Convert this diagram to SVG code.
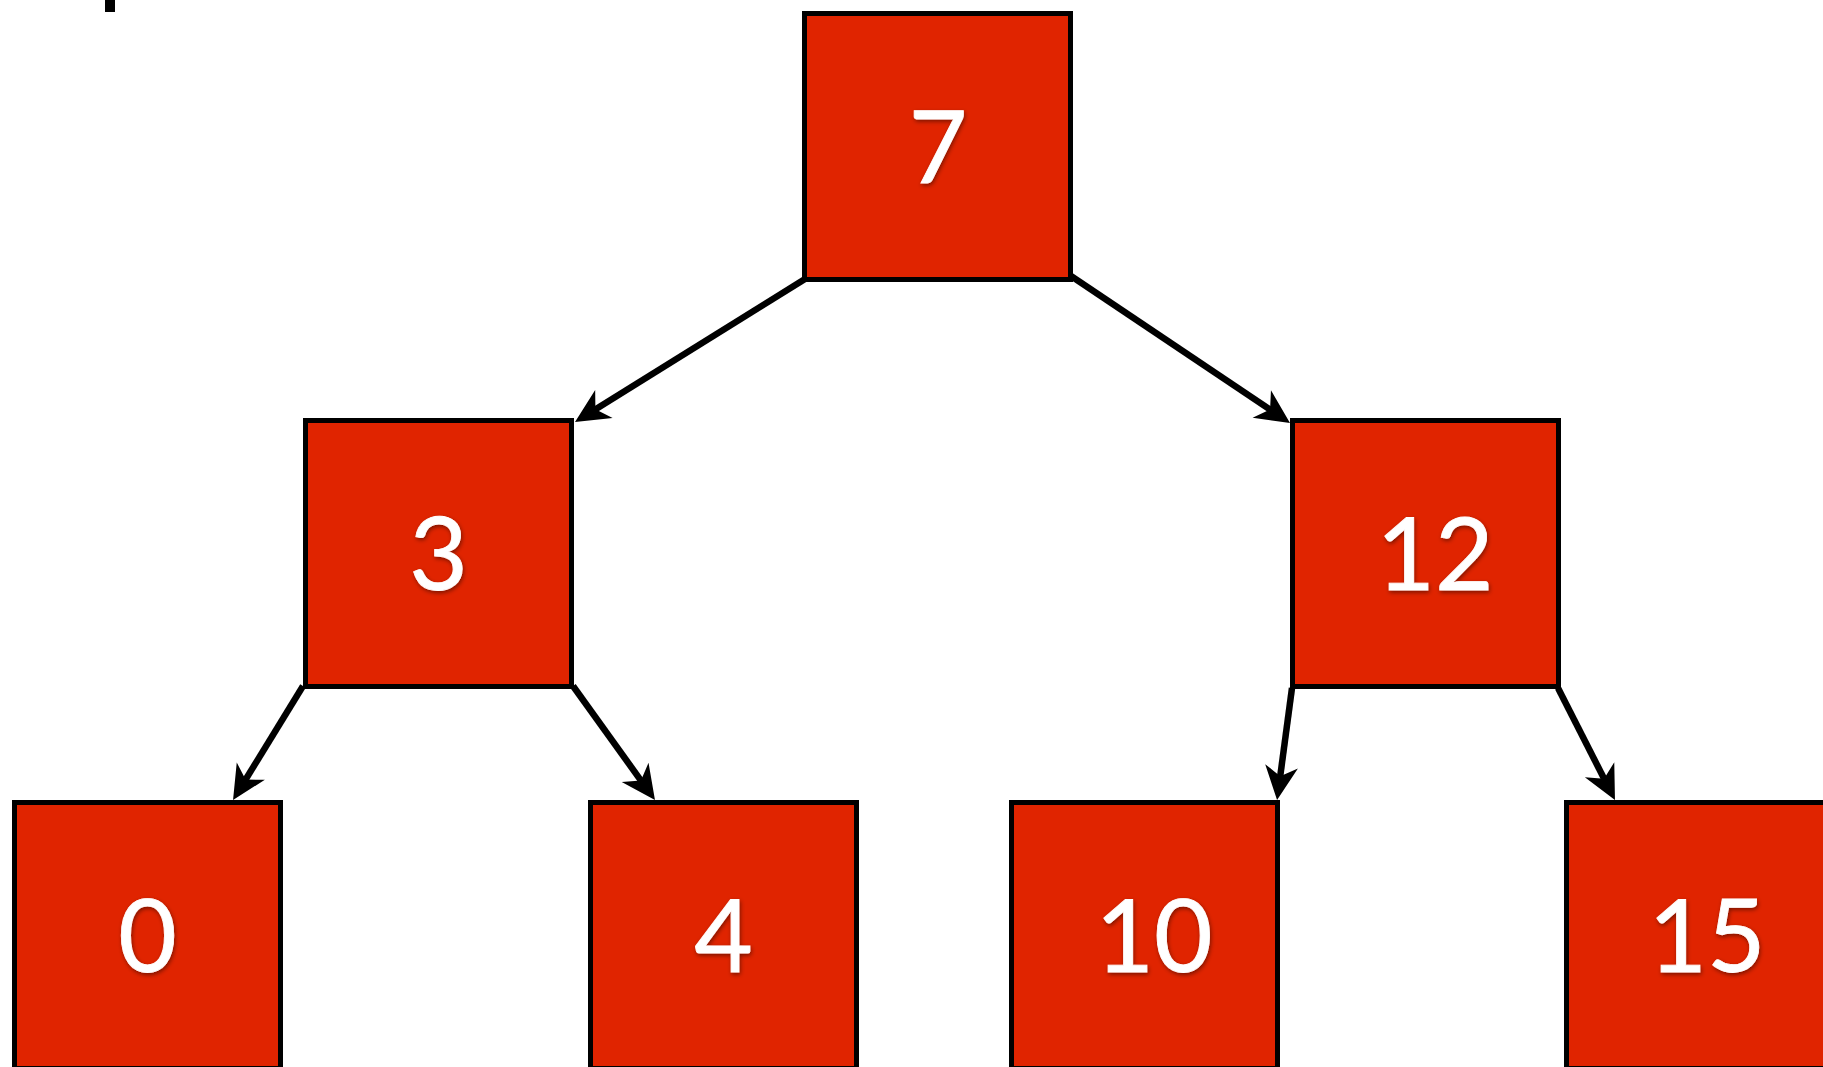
<svg xmlns="http://www.w3.org/2000/svg" width="1823" height="1067" viewBox="0 0 1823 1067">
<style>
.node rect{fill:#e02400;stroke:#000;stroke-width:5}
.node text{fill:#fff;stroke:#fff;stroke-width:0.8;font-family:Lato,"Open Sans",sans-serif;font-size:101px;text-anchor:middle;filter:url(#sh)}
.edge{stroke:#000;stroke-width:6.5;fill:none;marker-end:url(#ah)}
</style>
<defs>
<filter id="sh" x="-20%" y="-20%" width="140%" height="140%"><feDropShadow dx="1" dy="2" stdDeviation="2" flood-color="#000" flood-opacity="0.45"/></filter>
<marker id="ah" markerUnits="userSpaceOnUse" viewBox="-16 -18 38 36" markerWidth="38" markerHeight="36" refX="0" refY="0" orient="auto"><path d="M20,0 L-14,-16.5 L-4,0 L-14,16.5 Z" fill="#000"/></marker>
</defs>
<rect x="105" y="0" width="10" height="12" fill="#000"/>
<g id="connectors">
<line class="edge" x1="805" y1="279" x2="592" y2="411.4"/>
<line class="edge" x1="1071" y1="276" x2="1273.4" y2="411.8"/>
<line class="edge" x1="303" y1="686" x2="243.5" y2="783"/>
<line class="edge" x1="573" y1="686" x2="643.3" y2="783.8"/>
<line class="edge" x1="1292" y1="688" x2="1279.7" y2="780.2"/>
<line class="edge" x1="1558" y1="688" x2="1605.9" y2="782.2"/>
</g>
<g id="n7" class="node"><rect x="804.5" y="13.5" width="266" height="266"/><text x="938" y="183">7</text></g>
<g id="n3" class="node"><rect x="305.5" y="420.5" width="266" height="266"/><text x="438.5" y="590">3</text></g>
<g id="n12" class="node"><rect x="1292.5" y="420.5" width="266" height="266"/><text x="1435" y="590">12</text></g>
<g id="n0" class="node"><rect x="14.5" y="802.5" width="266" height="266"/><text x="147.5" y="972">0</text></g>
<g id="n4" class="node"><rect x="590.5" y="802.5" width="266" height="266"/><text x="723.5" y="972">4</text></g>
<g id="n10" class="node"><rect x="1011.5" y="802.5" width="266" height="266"/><text x="1154" y="972">10</text></g>
<g id="n15" class="node"><rect x="1566.5" y="802.5" width="266" height="266"/><text x="1707" y="972">15</text></g>
</svg>
